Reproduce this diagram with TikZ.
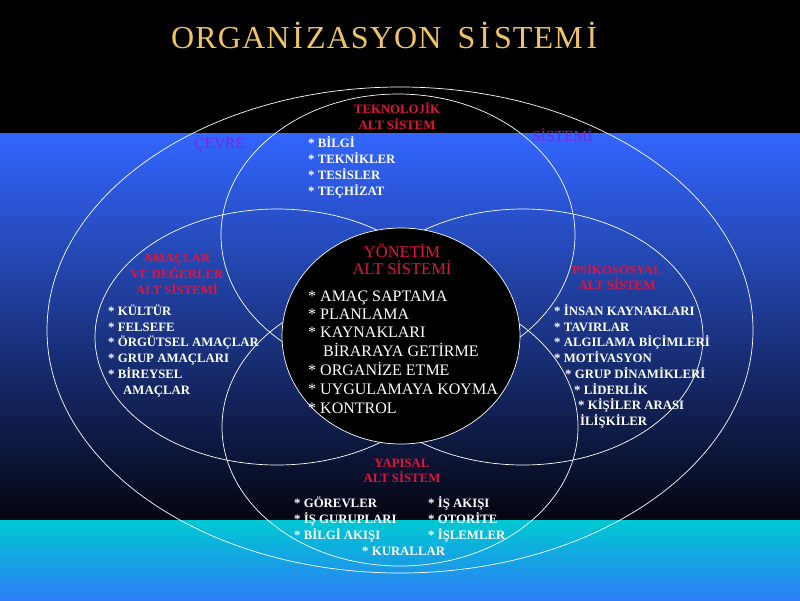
\documentclass[tikz,border=0pt]{standalone}
\usepackage{fontspec}
\setmainfont{Liberation Serif}
\newfontfamily\titlefont[LetterSpace=3.5]{Liberation Serif}
\definecolor{lblred}{RGB}{225,20,60}
\definecolor{envpurple}{RGB}{120,40,220}
\definecolor{titlegold}{RGB}{240,196,100}
\definecolor{bgtop}{RGB}{51,102,255}
\definecolor{bgbot}{RGB}{4,5,16}
\definecolor{cyantop}{RGB}{0,200,210}
\definecolor{cyanbot}{RGB}{45,125,245}
\begin{document}
\begin{tikzpicture}[x=1pt,y=-1pt,
  ring/.style={draw=white, line width=0.7pt},
  redlbl/.style={text=lblred, font=\fontsize{12.8}{14}\selectfont\bfseries, inner sep=0pt, anchor=base},
  item/.style={text=white, font=\fontsize{12.8}{14}\selectfont\bfseries, anchor=base west, inner sep=0pt},
  bigitem/.style={text=white, font=\fontsize{16}{18}\selectfont, anchor=base west, inner sep=0pt},
  biglbl/.style={text=lblred, font=\fontsize{16.5}{18}\selectfont, inner sep=0pt, anchor=base},
  envlbl/.style={text=envpurple, font=\fontsize{15.5}{17}\selectfont, inner sep=0pt, anchor=base west}]
\useasboundingbox (0,0) rectangle (800,600);
% background
\fill[black] (0,0) rectangle (800,600);
\shade[top color=bgtop, bottom color=bgbot] (0,133) rectangle (800,520);
\shade[top color=cyantop, bottom color=cyanbot] (0,520) rectangle (800,600);
% title
\node[text=titlegold, font=\titlefont\fontsize{32}{34}\selectfont, anchor=base west, inner sep=0pt] (title) at (171,48)
  {ORGAN\kern3ptİ\kern3ptZASYON\hspace{7pt} S\kern4ptİ\kern4ptSTEM\kern4ptİ};
% rings
\draw[ring] (400,330) ellipse [x radius=353, y radius=243];
\draw[ring] (398,235) ellipse [x radius=177, y radius=141];
\draw[ring] (400,427) ellipse [x radius=178, y radius=139];
\draw[ring] (277,337) ellipse [x radius=182, y radius=128];
\draw[ring] (523,337) ellipse [x radius=180, y radius=128];
\draw[ring, fill=black] (401,336) ellipse [x radius=119, y radius=108];
% environment labels
\node[envlbl] (cevre) at (194,148) {ÇEVRE};
\node[envlbl] (sistemi) at (532,141) {SİSTEMİ};
% technological
\node[redlbl] (t1) at (397,113) {TEKNOLOJİK};
\node[redlbl] (t2) at (397,129) {ALT SİSTEM};
\node[item] (ti1) at (308,147) {* BİLGİ};
\node[item] (ti2) at (308,163) {* TEKNİKLER};
\node[item] (ti3) at (308,179) {* TESİSLER};
\node[item] (ti4) at (308,195) {* TEÇHİZAT};
% goals
\node[redlbl] (a1) at (177,262) {AMAÇLAR};
\node[redlbl] (a2) at (177,278) {VE DEĞERLER};
\node[redlbl] (a3) at (177,294) {ALT SİSTEMİ};
\node[item] (ai1) at (108,315) {* KÜLTÜR};
\node[item] (ai2) at (108,331) {* FELSEFE};
\node[item] (ai3) at (108,346) {* ÖRGÜTSEL AMAÇLAR};
\node[item] (ai4) at (108,362) {* GRUP AMAÇLARI};
\node[item] (ai5) at (108,378) {* BİREYSEL};
\node[item] (ai6) at (123,394) {AMAÇLAR};
% psychosocial
\node[redlbl] (p1) at (617,274) {PSİKOSOSYAL};
\node[redlbl] (p2) at (617,289) {ALT SİSTEM};
\node[item] (pi1) at (554,315) {* İNSAN KAYNAKLARI};
\node[item] (pi2) at (554,331) {* TAVIRLAR};
\node[item] (pi3) at (554,346) {* ALGILAMA BİÇİMLERİ};
\node[item] (pi4) at (554,362) {* MOTİVASYON};
\node[item] (pi5) at (565,378) {* GRUP DİNAMİKLERİ};
\node[item] (pi6) at (574,394) {* LİDERLİK};
\node[item] (pi7) at (578,409) {* KİŞİLER ARASI};
\node[item] (pi8) at (580,425) {İLİŞKİLER};
% structural
\node[redlbl] (y1) at (402,467) {YAPISAL};
\node[redlbl] (y2) at (402,482) {ALT SİSTEM};
\node[item] (yi1) at (294,507) {* GÖREVLER};
\node[item] (yi2) at (294,523) {* İŞ GURUPLARI};
\node[item] (yi3) at (294,539) {* BİLGİ AKIŞI};
\node[item] (yi4) at (428,507) {* İŞ AKIŞI};
\node[item] (yi5) at (428,523) {* OTORİTE};
\node[item] (yi6) at (428,539) {* İŞLEMLER};
\node[item] (yi7) at (362,555) {* KURALLAR};
% management
\node[biglbl] (m1) at (402,257.5) {YÖNETİM};
\node[biglbl] (m2) at (402,274.5) {ALT SİSTEMİ};
\node[bigitem] (mi1) at (308,301.3) {* AMAÇ SAPTAMA};
\node[bigitem] (mi2) at (308,319.3) {* PLANLAMA};
\node[bigitem] (mi3) at (308,337.3) {* KAYNAKLARI};
\node[bigitem] (mi4) at (323,356.3) {BİRARAYA GETİRME};
\node[bigitem] (mi5) at (308,375.3) {* ORGANİZE ETME};
\node[bigitem] (mi6) at (308,394.3) {* UYGULAMAYA KOYMA};
\node[bigitem] (mi7) at (308,413.3) {* KONTROL};
\end{tikzpicture}
\end{document}
